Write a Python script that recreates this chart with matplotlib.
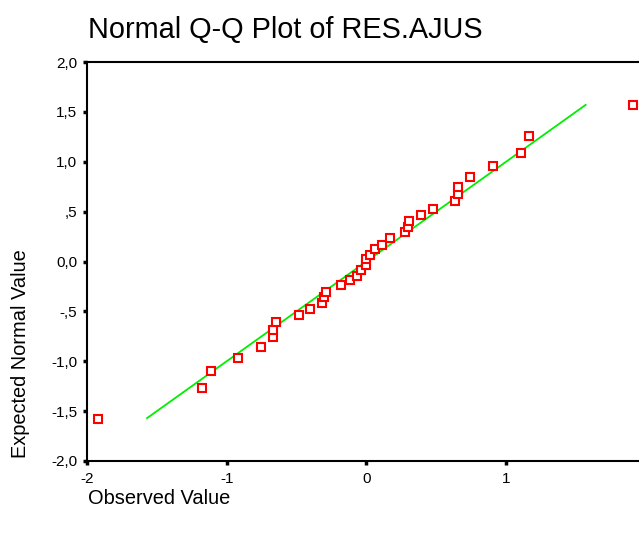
import matplotlib
matplotlib.use("Agg")
import matplotlib.pyplot as plt

plt.rcParams['font.family'] = ['Liberation Sans', 'DejaVu Sans']

observed = [-1.924, -1.174, -1.112, -0.917, -0.753, -0.669, -0.669, -0.648, -0.481,
            -0.400, -0.317, -0.305, -0.286, -0.181, -0.119, -0.067, -0.036, -0.003,
            -0.003, 0.026, 0.059, 0.109, 0.171, 0.276, 0.295, 0.304, 0.393, 0.474,
            0.638, 0.659, 0.659, 0.742, 0.909, 1.104, 1.166, 1.911]
expected = [-1.578, -1.267, -1.094, -0.963, -0.860, -0.752, -0.685, -0.609, -0.535,
            -0.474, -0.418, -0.358, -0.301, -0.238, -0.181, -0.141, -0.081, -0.038,
            0.023, 0.067, 0.127, 0.170, 0.231, 0.291, 0.348, 0.408, 0.464, 0.522,
            0.602, 0.675, 0.742, 0.849, 0.953, 1.083, 1.261, 1.568]
line_x = [-1.57, 1.57]
line_y = [-1.57, 1.57]

yticks = [2.0, 1.5, 1.0, 0.5, 0.0, -0.5, -1.0, -1.5, -2.0]
ytick_labels = ['2,0', '1,5', '1,0', ',5', '0,0', '-,5', '-1,0', '-1,5', '-2,0']
xticks = [-2, -1, 0, 1]
xtick_labels = ['-2', '-1', '0', '1']

fig = plt.figure(figsize=(6.39, 5.36), dpi=100)
ax = fig.add_axes([87/639, 1 - 461/536, 1 - 87/639, (461 - 62)/536])
ax.set_xlim(-2.0, 1.952)
ax.set_ylim(-2.0, 2.0)

ax.plot(line_x, line_y, color='#00ee00', lw=1.3, zorder=2)
ax.plot(observed, expected, linestyle='none', marker='s', markersize=5.5,
        markerfacecolor='white', markeredgecolor='#ff0000', markeredgewidth=1.5, zorder=3)

for s in ['left', 'bottom', 'top']:
    ax.spines[s].set_linewidth(1.5)
    ax.spines[s].set_color('black')
ax.spines['right'].set_visible(False)

ax.set_yticks(yticks)
ax.set_yticklabels(ytick_labels)
ax.set_xticks(xticks)
ax.set_xticklabels(xtick_labels)
ax.tick_params(axis='both', direction='out', length=3, width=2.5, labelsize=11)
ax.tick_params(axis='y', pad=4)
ax.tick_params(axis='x', pad=5)

fig.text(88/639, 1 - 30/536, 'Normal Q-Q Plot of RES.AJUS', fontsize=20.8, ha='left', va='center')
fig.text(88/639, 1 - 498/536, 'Observed Value', fontsize=14.4, ha='left', va='center')
fig.text(21/639, 1 - 354/536, 'Expected Normal Value', fontsize=14.4, ha='center', va='center', rotation=90)

fig.savefig('out.png', dpi=100)
